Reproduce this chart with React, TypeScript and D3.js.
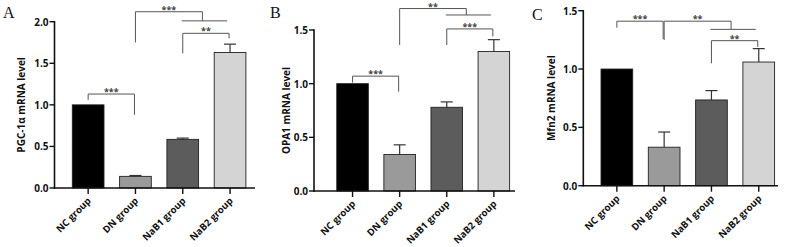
import React from "react";
import * as d3 from "d3";

const categories = ["NC group", "DN group", "NaB1 group", "NaB2 group"];
const barColors = ["#000000", "#9a9a9a", "#5c5c5c", "#d4d4d4"];

const panelLetters = ["A", "B", "C"];
const yTitles = ["PGC-1\u03b1 mRNA level", "OPA1 mRNA level", "Mfn2 mRNA level"];
const yMax = [2.0, 1.5, 1.5];
const yTicks = [
  [0, 0.5, 1.0, 1.5, 2.0],
  [0, 0.5, 1.0, 1.5],
  [0, 0.5, 1.0, 1.5],
];

const meansA = [1.0, 0.14, 0.585, 1.63];
const errA = [0, 0.01, 0.015, 0.1];
const meansB = [1.0, 0.34, 0.78, 1.3];
const errB = [0, 0.09, 0.05, 0.11];
const meansC = [1.0, 0.33, 0.735, 1.06];
const errC = [0, 0.13, 0.08, 0.115];

// brackets: from index, to index (or group), top value, left-leg bottom, right-leg bottom, label
type Bracket = { from: number; to: number | [number, number]; top: number; lb: number; rb: number; label: string };
const bracketsA: Bracket[] = [
  { from: 0, to: 1, top: 1.13, lb: 1.06, rb: 0.88, label: "***" },
  { from: 2, to: 3, top: 1.86, lb: 1.62, rb: 1.8, label: "**" },
  { from: 1, to: [2, 3], top: 2.12, lb: 1.75, rb: 2.01, label: "***" },
];
const bracketsB: Bracket[] = [
  { from: 0, to: 1, top: 1.07, lb: 1.01, rb: 0.925, label: "***" },
  { from: 2, to: 3, top: 1.51, lb: 1.36, rb: 1.44, label: "***" },
  { from: 1, to: [2, 3], top: 1.7, lb: 1.36, rb: 1.64, label: "**" },
];
const bracketsC: Bracket[] = [
  { from: 0, to: 1, top: 1.41, lb: 1.354, rb: 1.257, label: "***" },
  { from: 1, to: [2, 3], top: 1.41, lb: 1.249, rb: 1.34, label: "**" },
  { from: 2, to: 3, top: 1.243, lb: 1.049, rb: 1.19, label: "**" },
];

const means = [meansA, meansB, meansC];
const errs = [errA, errB, errC];
const brackets = [bracketsA, bracketsB, bracketsC];

// layout (pixels)
const layouts = [
  { axisX: 54.5, y0: 188, yTop: 21.7, xr: [64.5, 253.7], axisEnd: 255, titleX: 22.5, letterX: 3, letterY: 18 },
  { axisX: 314, y0: 191, yTop: 30, xr: [329, 517.4], axisEnd: 515, titleX: 287, letterX: 270, letterY: 18 },
  { axisX: 583.3, y0: 185.7, yTop: 10.7, xr: [593.2, 782.4], axisEnd: 778, titleX: 552, letterX: 532, letterY: 20 },
];

const FONT = "'Open Sans', 'Liberation Sans', Arial, sans-serif";

function Panel({ p }: { p: number }) {
  const L = layouts[p];
  const y = d3.scaleLinear().domain([0, yMax[p]]).range([L.y0, L.yTop]);
  const x = d3.scaleBand<string>().domain(categories).range(L.xr as [number, number]).paddingInner(0.33).paddingOuter(0.165);
  const bw = x.bandwidth();
  const cx = (i: number) => (x(categories[i]) as number) + bw / 2;
  const lineCol = "#555";
  return (
    <g>
      <text x={L.letterX} y={L.letterY} fontFamily="'Liberation Serif', 'Times New Roman', serif" fontSize={16} fill="#111">
        {panelLetters[p]}
      </text>
      <text
        transform={`translate(${L.titleX},${(L.y0 + L.yTop) / 2}) rotate(-90)`}
        textAnchor="middle"
        dominantBaseline="middle"
        fontFamily={FONT}
        fontWeight="bold"
        fontSize={10}
        fill="#111"
      >
        {yTitles[p]}
      </text>
      {means[p].map((m, i) => (
        <g key={i}>
          {errs[p][i] > 0 && (
            <g stroke="#333" strokeWidth={1.2}>
              <line x1={cx(i)} x2={cx(i)} y1={y(m)} y2={y(m + errs[p][i])} />
              <line x1={cx(i) - 6} x2={cx(i) + 6} y1={y(m + errs[p][i])} y2={y(m + errs[p][i])} />
            </g>
          )}
          <rect
            x={x(categories[i])}
            y={y(m)}
            width={bw}
            height={L.y0 - y(m)}
            fill={barColors[i]}
            stroke="#222"
            strokeWidth={0.9}
          />
        </g>
      ))}
      <line x1={L.axisX} x2={L.axisX} y1={y(yMax[p]) - 0.7} y2={L.y0 + 0.7} stroke="#111" strokeWidth={1.6} />
      {yTicks[p].map((t) => (
        <g key={t}>
          <line x1={L.axisX - 5} x2={L.axisX} y1={y(t)} y2={y(t)} stroke="#111" strokeWidth={1.4} />
          <text x={L.axisX - 6} y={y(t)} textAnchor="end" dominantBaseline="central" fontFamily={FONT} fontWeight="bold" fontSize={10} fill="#111">
            {d3.format(".1f")(t)}
          </text>
        </g>
      ))}
      <line x1={L.axisX - 0.8} x2={L.axisEnd} y1={L.y0} y2={L.y0} stroke="#111" strokeWidth={1.6} />
      {categories.map((c, i) => (
        <g key={c}>
          <line x1={cx(i)} x2={cx(i)} y1={L.y0} y2={L.y0 + 6} stroke="#111" strokeWidth={1.4} />
          <text
            transform={`translate(${cx(i) + 1},${L.y0 + 11}) rotate(-45)`}
            textAnchor="end"
            dominantBaseline="central"
            fontFamily={FONT}
            fontWeight="bold"
            fontSize={9.6}
            fill="#111"
          >
            {c}
          </text>
        </g>
      ))}
      {brackets[p].map((b, k) => {
        const xl = cx(b.from);
        let xr: number;
        let group: [number, number] | null = null;
        if (Array.isArray(b.to)) {
          group = [cx(b.to[0]) - 1, cx(b.to[1]) - 3];
          xr = (group[0] + group[1]) / 2 - 2;
        } else {
          xr = cx(b.to) - 1;
        }
        return (
          <g key={k}>
            <path d={`M${xl},${y(b.lb)}V${y(b.top)}H${xr}V${y(b.rb)}`} fill="none" stroke={lineCol} strokeWidth={1} />
            {group && <line x1={group[0]} x2={group[1]} y1={y(b.rb)} y2={y(b.rb)} stroke={lineCol} strokeWidth={1} />}
            <text
              x={(xl + xr) / 2}
              y={y(b.top) + 1}
              textAnchor="middle"
              fontFamily={FONT}
              fontWeight="bold"
              fontSize={9}
              fill="#444"
            >
              {b.label}
            </text>
          </g>
        );
      })}
    </g>
  );
}

export default function App() {
  return (
    <svg width={792} height={247} style={{ position: "absolute", left: 0, top: 0, background: "#fff" }}>
      <rect width={792} height={247} fill="#fff" />
      {[0, 1, 2].map((p) => (
        <Panel key={p} p={p} />
      ))}
    </svg>
  );
}
